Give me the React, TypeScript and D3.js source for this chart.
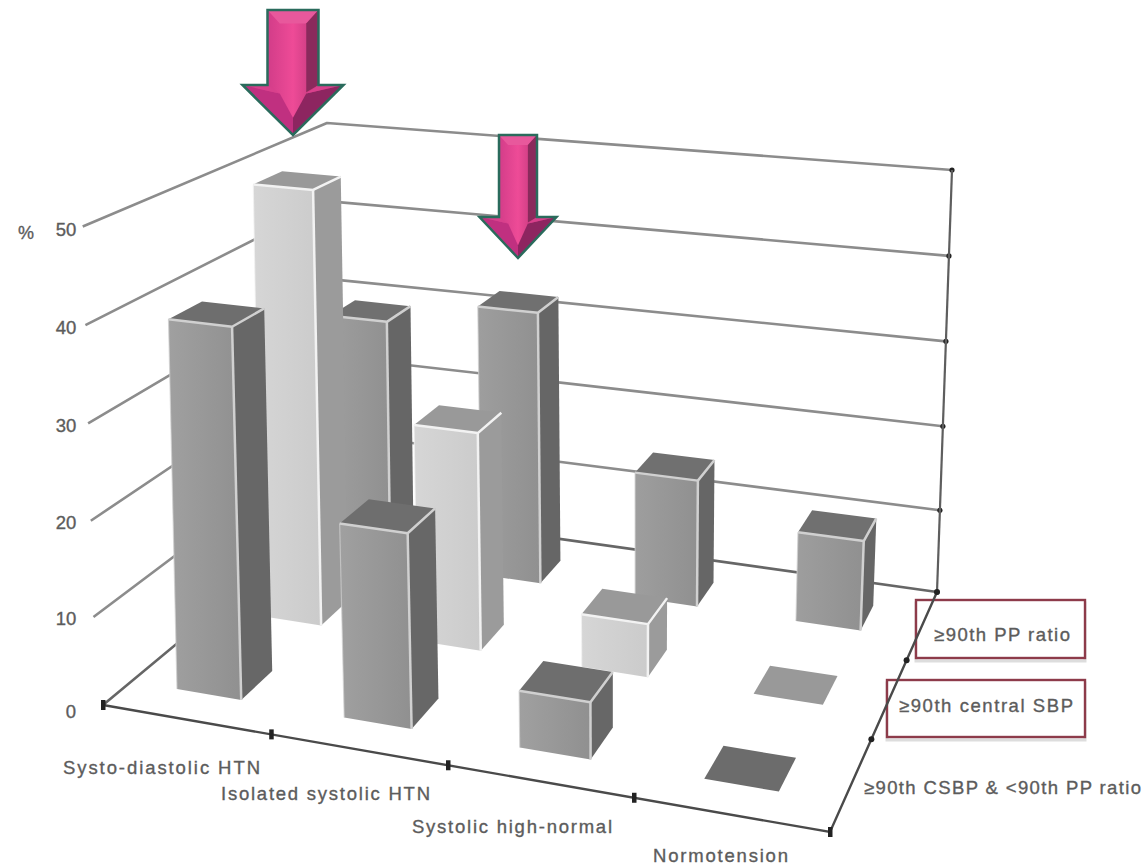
import React from "react";
import * as d3 from "d3";

// Percentages per blood-pressure category, one list per depth row.
const categories = ["Systo-diastolic HTN", "Isolated systolic HTN", "Systolic high-normal", "Normotension"];
const csbpOnlyValues = [39.5, 20.5, 6, 0];
const centralSbpValues = [49.5, 24.5, 6, 0];
const ppRatioValues = [29.5, 32.5, 15, 10.5];
const valueTicks = [0, 10, 20, 30, 40, 50];

type Pt = [number, number];

// Chart cube corners on screen: the floor, the 50 % level of the walls,
// and the slightly less splayed 50 % level the bars rise towards.
const floorQuad: Pt[] = [[103, 705], [830, 832], [937, 592], [340, 508]];
const wallTopQuad: Pt[] = [[91, 223], [844, 308], [952, 170], [327, 123]];
const barTopQuad: Pt[] = [[92, 227], [852, 308], [957, 170], [336, 123]];

const catScale = d3.scaleLinear().domain([0, 4]).range([0, 1]);
const rowScale = d3.scaleLinear().domain([0, 3]).range([0, 1]);
const valScale = d3.scalePow().exponent(1.02).domain([0, 50]).range([0, 1]);

// Square-to-quadrilateral projective mapping.
function projector(q: Pt[]) {
  const [[x0, y0], [x1, y1], [x2, y2], [x3, y3]] = q;
  const dx1 = x1 - x2, dx2 = x3 - x2, sx = x0 - x1 + x2 - x3;
  const dy1 = y1 - y2, dy2 = y3 - y2, sy = y0 - y1 + y2 - y3;
  const den = dx1 * dy2 - dx2 * dy1;
  const g = (sx * dy2 - dx2 * sy) / den;
  const h = (dx1 * sy - sx * dy1) / den;
  return (s: number, t: number): Pt => {
    const w = 1 + g * s + h * t;
    return [
      (x0 + (x1 - x0 + g * x1) * s + (x3 - x0 + h * x3) * t) / w,
      (y0 + (y1 - y0 + g * y1) * s + (y3 - y0 + h * y3) * t) / w,
    ];
  };
}
const floorAt = projector(floorQuad);
const wallTopAt = projector(wallTopQuad);
const barTopAt = projector(barTopQuad);

// Category position, row position and percentage to a screen point.
function placeWith(top: (s: number, t: number) => Pt, cat: number, row: number, value: number): Pt {
  const s = catScale(cat), t = rowScale(row), k = valScale(value);
  const a = floorAt(s, t), b = top(s, t);
  return [a[0] + (b[0] - a[0]) * k, a[1] + (b[1] - a[1]) * k];
}
const place = (cat: number, row: number, value: number) => placeWith(wallTopAt, cat, row, value);
const placeBar = (cat: number, row: number, value: number) => placeWith(barTopAt, cat, row, value);

const path = d3.line<Pt>().x((d) => d[0]).y((d) => d[1]);
const poly = (pts: Pt[]) => (path(pts) as string) + "Z";

const catStart = 0.28, catEnd = 0.67;
const rowStart = 0.3, rowEnd = 0.67;

interface RowStyle { front: [string, string]; side: string; top: string; flat: string; id: string; edge: string; }
const rowStyles: RowStyle[] = [
  { id: "f", front: ["#a0a0a0", "#909090"], side: "#676767", top: "#6e6e6e", flat: "#6c6c6c", edge: "#d0d0d0" },
  { id: "m", front: ["#d6d6d6", "#cbcbcb"], side: "#9b9b9b", top: "#999999", flat: "#999999", edge: "#f2f2f2" },
  { id: "b", front: ["#9e9e9e", "#909090"], side: "#666666", top: "#707070", flat: "#8c8c8c", edge: "#d0d0d0" },
];
const rows = [csbpOnlyValues, centralSbpValues, ppRatioValues];

function Bar({ cat, row, value }: { cat: number; row: number; value: number }) {
  const st = rowStyles[row];
  const u0 = cat + catStart, u1 = cat + catEnd, v0 = row + rowStart, v1 = row + rowEnd;
  const fl = placeBar(u0, v0, 0), fr = placeBar(u1, v0, 0), br = placeBar(u1, v1, 0), bl = placeBar(u0, v1, 0);
  if (value <= 0) return <path d={poly([fl, fr, br, bl])} fill={st.flat} />;
  const tfl = placeBar(u0, v0, value), tfr = placeBar(u1, v0, value), tbr = placeBar(u1, v1, value), tbl = placeBar(u0, v1, value);
  return (
    <g>
      <path d={poly([fr, br, tbr, tfr])} fill={st.side} />
      <path d={poly([fl, fr, tfr, tfl])} fill={`url(#face-${st.id})`} />
      <path d={poly([tfl, tfr, tbr, tbl])} fill={st.top} />
      <path d={path([fl, tfl]) as string} fill="none" stroke={st.edge} strokeWidth={1.2} opacity={0.7} />
      <path d={path([tfl, tfr, tbr]) as string} fill="none" stroke={st.edge} strokeWidth={2.5} strokeLinejoin="round" />
      <path d={path([tfr, fr]) as string} fill="none" stroke={st.edge} strokeWidth={2.5} />
    </g>
  );
}

// Beveled pink annotation arrow pointing down at a tip.
function Arrow({ tip, shaftW, headW, headH, len, id }: { tip: Pt; shaftW: number; headW: number; headH: number; len: number; id: string }) {
  const [tx, ty] = tip;
  const sx0 = tx - shaftW / 2, sx1 = tx + shaftW / 2;
  const hx0 = tx - headW / 2, hx1 = tx + headW / 2;
  const top = ty - len, neck = ty - headH;
  const bev = shaftW * 0.24;
  const outline: Pt[] = [[sx0, top], [sx1, top], [sx1, neck], [hx1, neck], [tx, ty], [hx0, neck], [sx0, neck]];
  return (
    <g>
      <path d={poly(outline)} fill={`url(#${id})`} />
      <path d={poly([[sx0, top], [sx1, top], [sx1 - bev, top + bev * 1.1], [sx0 + bev, top + bev * 1.1]])} fill="#e8589c" />
      <path d={poly([[sx1 - bev, top + bev * 1.1], [sx1, top], [sx1, neck], [sx1 - bev, neck + bev * 0.6]])} fill="#8a2a5c" />
      <path d={poly([[hx0, neck], [sx0 + bev, neck + bev * 0.7], [tx, ty - bev * 1.4], [tx, ty]])} fill="#c03080" />
      <path d={poly([[hx1, neck], [sx1 - bev, neck + bev * 0.7], [tx, ty - bev * 1.4], [tx, ty]])} fill="#8d2560" />
      <path d={poly([[hx0, neck], [sx0, neck], [sx0 + bev, neck + bev * 0.7]])} fill="#d8408c" />
      <path d={poly([[hx1, neck], [sx1, neck], [sx1 - bev, neck + bev * 0.7]])} fill="#d8408c" />
      <path d={poly(outline)} fill="none" stroke="#2a6b5c" strokeWidth={2.5} strokeLinejoin="miter" />
    </g>
  );
}

const font = "'Liberation Sans', Arial, sans-serif";
const textColor = "#5c5c5c";

function Label({ x, y, width, children }: { x: number; y: number; width: number; children: string }) {
  return (
    <text x={x} y={y} textLength={width} lengthAdjust="spacing" fontFamily={font} fontSize={18.5} fill={textColor} stroke={textColor} strokeWidth={0.35}>
      {children}
    </text>
  );
}

const catLabelBoxes = [
  { x: 63, y: 774, w: 197 },
  { x: 221, y: 800, w: 209 },
  { x: 412, y: 833, w: 200 },
  { x: 653, y: 862, w: 135 },
];

// Pushes a point a little way out along a segment, towards the value labels.
function overshoot(from: Pt, to: Pt, px: number): Pt {
  const d = Math.hypot(to[0] - from[0], to[1] - from[1]);
  return [from[0] - ((to[0] - from[0]) / d) * px, from[1] - ((to[1] - from[1]) / d) * px];
}

export default function App() {
  const grid = "#8c8c8c";
  const axis = "#4a4a4a";
  return (
    <svg width={1145} height={866} viewBox="0 0 1145 866" style={{ position: "absolute", left: 0, top: 0, background: "#ffffff" }}>
      <defs>
        {rowStyles.map((s) => (
          <linearGradient key={s.id} id={`face-${s.id}`} x1="0" x2="1" y1="0" y2="0">
            <stop offset="0" stopColor={s.front[0]} />
            <stop offset="1" stopColor={s.front[1]} />
          </linearGradient>
        ))}
        {["arrowA", "arrowB"].map((id) => (
          <linearGradient key={id} id={id} x1="0" x2="1" y1="0" y2="0">
            <stop offset="0.1" stopColor="#c13480" />
            <stop offset="0.5" stopColor="#ee4b97" />
            <stop offset="0.9" stopColor="#a02a68" />
          </linearGradient>
        ))}
      </defs>

      {/* Walls: level lines on the left side and the back */}
      {valueTicks.map((v) => {
        const a = place(0, 0, v), b = place(0, 3, v), c = place(4, 3, v);
        const start = v === 0 ? a : overshoot(a, b, 9);
        return (
          <g key={v}>
            <path d={path([start, b, c]) as string} fill="none" stroke={v === 0 ? "#666666" : grid} strokeWidth={2.6} strokeLinejoin="round" />
            <circle cx={c[0]} cy={c[1]} r={2.6} fill="#222" />
          </g>
        );
      })}
      <path d={path([place(4, 3, 0), place(4, 3, 50)]) as string} fill="none" stroke="#5e5e5e" strokeWidth={2.2} />

      {/* Bars, far row first */}
      {[2, 1, 0].map((row) =>
        rows[row].map((value, cat) => <Bar key={`${row}-${cat}`} cat={cat} row={row} value={value} />)
      )}

      {/* Outlined series labels */}
      {[{ x: 916, y: 600, w: 169, h: 58 }, { x: 887, y: 680, w: 198, h: 57 }].map((b) => (
        <g key={b.x}>
          <rect x={b.x} y={b.y + 3} width={b.w} height={b.h} fill="none" stroke="#dddddd" strokeWidth={3} />
          <rect x={b.x} y={b.y} width={b.w} height={b.h} fill="#ffffff" stroke="#8d3b4a" strokeWidth={2.4} />
        </g>
      ))}

      {/* Floor edges with their ticks */}
      <path d={path([place(0, 0, 0), place(4, 0, 0), place(4, 3, 0)]) as string} fill="none" stroke={axis} strokeWidth={2.4} />
      {[0, 1, 2, 3, 4].map((c) => {
        const p = place(c, 0, 0);
        return <rect key={c} x={p[0] - 2} y={p[1] - 5} width={4.5} height={10} fill="#222" />;
      })}
      {[1, 2, 3].map((r) => {
        const p = place(4, r, 0);
        return <circle key={r} cx={p[0]} cy={p[1]} r={3} fill="#222" />;
      })}

      {/* Value axis labels */}
      <text x={26} y={239} textAnchor="middle" fontFamily={font} fontSize={18} fill={textColor} stroke={textColor} strokeWidth={0.35}>%</text>
      {valueTicks.map((v) => {
        const y = place(0, 0, v)[1];
        return (
          <text key={v} x={v === 0 ? 71 : 66} y={y + 13} textAnchor="middle" fontFamily={font} fontSize={18.5} fill={textColor} stroke={textColor} strokeWidth={0.35}>
            {v}
          </text>
        );
      })}

      {/* Category and series labels */}
      {categories.map((c, i) => (
        <Label key={c} x={catLabelBoxes[i].x} y={catLabelBoxes[i].y} width={catLabelBoxes[i].w}>{c}</Label>
      ))}
      <Label x={864} y={794} width={277}>≥90th CSBP &amp; &lt;90th PP ratio</Label>
      <Label x={899} y={712} width={174}>≥90th central SBP</Label>
      <Label x={934} y={641} width={136}>≥90th PP ratio</Label>

      <Arrow id="arrowA" tip={[293, 135]} shaftW={51} headW={101} headH={50} len={125} />
      <Arrow id="arrowB" tip={[518, 258]} shaftW={38} headW={77} headH={41} len={123} />
    </svg>
  );
}
